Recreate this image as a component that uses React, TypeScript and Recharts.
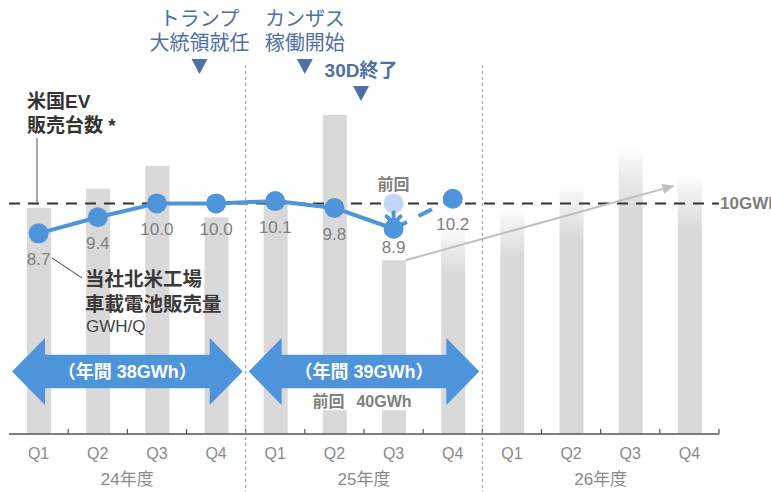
import React from 'react';
import {
  ComposedChart,
  Bar,
  Line,
  XAxis,
  YAxis,
  Cell,
  ReferenceLine,
  ReferenceArea,
} from 'recharts';

// 四半期 (年度 + Q)
const quarters = ['24Q1', '24Q2', '24Q3', '24Q4', '25Q1', '25Q2', '25Q3', '25Q4', '26Q1', '26Q2', '26Q3', '26Q4'];
// 米国EV販売台数 (万台, 目盛りが無いので棒の高さから読み取り)
const usEvSales = [29.4, 31.9, 34.9, 28.2, 30.4, 41.5, 22.6, 26.8, 29.4, 32.4, 37.2, 33.7];
const usEvOutlook = [false, false, false, false, false, false, false, true, true, true, true, true];
// 当社北米工場 車載電池販売量 GWh/Q
const batteryActual = [8.7, 9.4, 10.0, 10.0, 10.1, 9.8, 8.9, null, null, null, null, null];
const batteryPlan = [null, null, null, null, null, null, 8.9, 10.2, null, null, null, null];
const batteryPrevPlan = [null, null, null, null, null, null, 10.0, null, null, null, null, null];
const TARGET_GWH = 10;

// 年間の矢印
const annualSpans = [['24Q1', '24Q4'], ['25Q1', '25Q4']];
const annualLabels = ['（年間 38GWh）', '（年間 39GWh）'];
const annualPrev = ['', '40GWh'];

// イベント (四半期と、その四半期の中での位置 0〜1)
const eventLabels = [['トランプ', '大統領就任'], ['カンザス', '稼働開始'], ['30D終了']];
const eventQuarter = ['24Q4', '25Q2', '25Q2'];
const eventFrac = [0.22, 0.0, 0.95];
const eventRow = [0, 0, 1];

// 米国EV販売の伸び (灰色の矢印)
const trendFrom = { x: '25Q3', y: 22.6 };
const trendTo = { x: '26Q4', y: 32.3 };

const W = 771;
const H = 492;
const MARGIN = { top: 65, right: 52, bottom: 0, left: 9 };
const XAXIS_H = 58;
const AXIS_Y = H - XAXIS_H;
const BAND = (W - MARGIN.left - MARGIN.right) / quarters.length;
const BAR_W = 24;
const FONT = '"Liberation Sans", Arial, "Noto Sans CJK JP", sans-serif';
const BLUE = '#4d94da';
const NAVY = '#4f6fa6';
const GREY_TEXT = '#808080';

const data = quarters.map((q, i) => ({
  q,
  ev: usEvSales[i],
  actual: batteryActual[i],
  plan: batteryPlan[i],
  prev: batteryPrevPlan[i],
}));

const QuarterTick = (props: any) => {
  const { x, payload } = props;
  const key: string = payload.value;
  const yr = key.slice(0, 2);
  const q = key.slice(2);
  const edge = x + BAND / 2;
  return (
    <g>
      <line x1={edge} x2={edge} y1={AXIS_Y} y2={AXIS_Y - 5} stroke="#555" strokeWidth={1.2} />
      {q === 'Q4' && yr !== '26' && (
        <line x1={edge} x2={edge} y1={MARGIN.top} y2={H} stroke="#9a9a9a" strokeDasharray="3 3" />
      )}
      <text x={x} y={AXIS_Y + 25} textAnchor="middle" fontSize={16} fill="#8a8a8a">
        {q}
      </text>
      {q === 'Q2' && (
        <text x={edge} y={AXIS_Y + 51} textAnchor="middle" fontSize={17} fill="#8a8a8a">
          {yr}年度
        </text>
      )}
    </g>
  );
};

const valueLabel = (p: any) => {
  const { x, y, value, index } = p;
  if (value == null) return null;
  const dy = index === 6 ? 24 : 32;
  return (
    <text x={x} y={y + dy} textAnchor="middle" fontSize={17} fill="#7f7f7f">
      {Number(value).toFixed(1)}
    </text>
  );
};

const planLabel = (p: any) => (p.index === 7 ? valueLabel({ ...p, y: p.y - 1 }) : null);

const planDot = (p: any) => {
  const { cx, cy, index } = p;
  if (index !== 7 || cy == null) return <g key={`pd-${index}`} />;
  return <circle key={`pd-${index}`} cx={cx} cy={cy} r={10} fill={BLUE} />;
};

const prevDot = (p: any) => {
  const { cx, cy, value, index } = p;
  if (value == null || cy == null) return <g key={`pv-${index}`} />;
  return (
    <g key={`pv-${index}`}>
      <circle cx={cx} cy={cy} r={10} fill="#c4d6f7" />
      <text x={cx} y={cy - 13} textAnchor="middle" fontSize={16} fontWeight={700} fill={GREY_TEXT}>
        前回
      </text>
      <path
        d={`M${cx} ${cy + 9} V${cy + 20} M${cx - 7} ${cy + 13} L${cx} ${cy + 20} L${cx + 7} ${cy + 13}`}
        stroke={BLUE}
        strokeWidth={4}
        fill="none"
        strokeLinecap="round"
        strokeLinejoin="round"
      />
    </g>
  );
};

const annualArrow = (i: number) => (p: any) => {
  const { x, y, width, height } = p;
  const l = x + 3;
  const r = x + width - 3;
  const head = 33;
  const sT = y + height * 0.25;
  const sB = y + height * 0.75;
  const mid = y + height / 2;
  const pts = [
    [l, mid], [l + head, y], [l + head, sT], [r - head, sT], [r - head, y],
    [r, mid], [r - head, y + height], [r - head, sB], [l + head, sB], [l + head, y + height],
  ].map((pt) => pt.join(',')).join(' ');
  const cx = (l + r) / 2;
  return (
    <g>
      {annualPrev[i] && (
        <g>
          <rect x={cx - 60} y={sB} width={116} height={22} fill="#fff" />
          <text x={cx - 2} y={sB + 19} textAnchor="middle" fontSize={16} fontWeight={700} fill={GREY_TEXT}>
            前回<tspan dx={12}>{annualPrev[i]}</tspan>
          </text>
        </g>
      )}
      <polygon points={pts} fill={BLUE} />
      <text x={cx} y={mid + 6} textAnchor="middle" fontSize={18} fontWeight={700} fill="#fff">
        {annualLabels[i]}
      </text>
    </g>
  );
};

const eventMark = (i: number) => (p: any) => {
  const vb = p.viewBox || {};
  const cx = vb.x - BAND / 2 + eventFrac[i] * BAND;
  const row = eventRow[i];
  const triTop = vb.y - 6 + row * 27;
  const lines = eventLabels[i];
  return (
    <g>
      {lines.map((t, k) => (
        <text
          key={k}
          x={cx}
          y={triTop - 9 - (lines.length - 1 - k) * 24}
          textAnchor="middle"
          fontSize={row === 1 ? 19 : 20}
          fontWeight={row === 1 ? 700 : 400}
          fill={NAVY}
        >
          {t}
        </text>
      ))}
      <polygon points={`${cx - 8},${triTop} ${cx + 8},${triTop} ${cx},${triTop + 15}`} fill={NAVY} />
    </g>
  );
};

const trendArrow = (p: any) => {
  // start at the bar's top-right corner, stop short of the last bar's centre
  const x1 = p.x1 + BAR_W / 2;
  const y1 = p.y1;
  const x2 = p.x2 - 15;
  const y2 = p.y2;
  const a = Math.atan2(y2 - y1, x2 - x1);
  const L = 12;
  const w = 5;
  const bx = x2 - L * Math.cos(a);
  const by = y2 - L * Math.sin(a);
  const pts = `${x2},${y2} ${bx + w * Math.sin(a)},${by - w * Math.cos(a)} ${bx - w * Math.sin(a)},${by + w * Math.cos(a)}`;
  return (
    <g>
      <line x1={x1} y1={y1} x2={bx} y2={by} stroke="#bfbfbf" strokeWidth={2} />
      <polygon points={pts} fill="#bfbfbf" />
    </g>
  );
};

const targetLabel = (p: any) => {
  const vb = p.viewBox || {};
  return (
    <text x={vb.x + vb.width + 1} y={vb.y + 6} fontSize={17} fontWeight={700} fill="#7f7f7f">
      {TARGET_GWH}GWh
    </text>
  );
};

export default function App() {
  return (
    <div style={{ position: 'absolute', left: 0, top: 0, width: W, height: H, fontFamily: FONT, background: '#fff', overflow: 'hidden' }}>
      <svg width={0} height={0} style={{ position: 'absolute' }}>
        <defs>
          <linearGradient id="evFade" x1="0" y1="0" x2="0" y2="1">
            <stop offset="0" stopColor="#d9d9d9" stopOpacity={0} />
            <stop offset="0.05" stopColor="#d9d9d9" stopOpacity={0.3} />
            <stop offset="0.22" stopColor="#d9d9d9" stopOpacity={1} />
          </linearGradient>
        </defs>
      </svg>
      <ComposedChart width={W} height={H} data={data} margin={MARGIN}>
        <XAxis
          dataKey="q"
          height={XAXIS_H}
          interval={0}
          tickLine={false}
          axisLine={{ stroke: '#555', strokeWidth: 1.5 }}
          tick={QuarterTick}
        />
        <YAxis
          yAxisId="ev"
          domain={[0, 48]}
          width={0}
          tick={false}
          tickLine={false}
          axisLine={{ stroke: '#666', strokeWidth: 1.5 }}
        />
        <YAxis yAxisId="gwh" domain={[0, 16]} hide />

        <Bar yAxisId="ev" dataKey="ev" barSize={BAR_W} isAnimationActive={false}>
          {data.map((d, i) => (
            <Cell key={d.q} fill={usEvOutlook[i] ? 'url(#evFade)' : '#d9d9d9'} />
          ))}
        </Bar>

        <ReferenceLine
          yAxisId="gwh"
          y={TARGET_GWH}
          stroke="#333"
          strokeWidth={2}
          strokeDasharray="11 8"
          label={targetLabel}
          zIndex={350}
        />
        <ReferenceLine
          yAxisId="ev"
          segment={[trendFrom, trendTo]}
          shape={trendArrow}
          zIndex={350}
        />

        {annualSpans.map(([a, b], i) => (
          <ReferenceArea
            key={a}
            yAxisId="gwh"
            x1={a}
            x2={b}
            y1={1.26}
            y2={4.16}
            shape={annualArrow(i)}
            zIndex={450}
          />
        ))}

        <Line
          yAxisId="gwh"
          dataKey="plan"
          stroke={BLUE}
          strokeWidth={4}
          strokeDasharray="15 13"
          dot={planDot}
          activeDot={false}
          label={planLabel}
          isAnimationActive={false}
        />
        <Line
          yAxisId="gwh"
          dataKey="actual"
          stroke={BLUE}
          strokeWidth={4}
          dot={{ r: 10, fill: BLUE, stroke: 'none' }}
          activeDot={false}
          label={valueLabel}
          isAnimationActive={false}
        />
        <Line
          yAxisId="gwh"
          dataKey="prev"
          stroke="none"
          dot={prevDot}
          activeDot={false}
          isAnimationActive={false}
        />

        {eventQuarter.map((q, i) => (
          <ReferenceLine
            key={i}
            yAxisId="gwh"
            x={q}
            stroke="none"
            label={eventMark(i)}
          />
        ))}
      </ComposedChart>

      <svg width={W} height={H} style={{ position: 'absolute', left: 0, top: 0, pointerEvents: 'none' }}>
        <text x={27} y={108} fontSize={19} fontWeight={700} fill="#333">米国EV</text>
        <text x={27} y={132} fontSize={19} fontWeight={700} fill="#333">販売台数 *</text>
        <line x1={37} y1={138} x2={37} y2={205} stroke="#555" strokeWidth={1} />
        <line x1={52} y1={258} x2={82} y2={278} stroke="#444" strokeWidth={1} />
        <text x={85} y={286} fontSize={19.5} fontWeight={700} fill="#3a3a3a">当社北米工場</text>
        <text x={85} y={311} fontSize={19.5} fontWeight={700} fill="#3a3a3a">車載電池販売量</text>
        <text x={86} y={332} fontSize={17} fill="#444">GWH/Q</text>
      </svg>
    </div>
  );
}
